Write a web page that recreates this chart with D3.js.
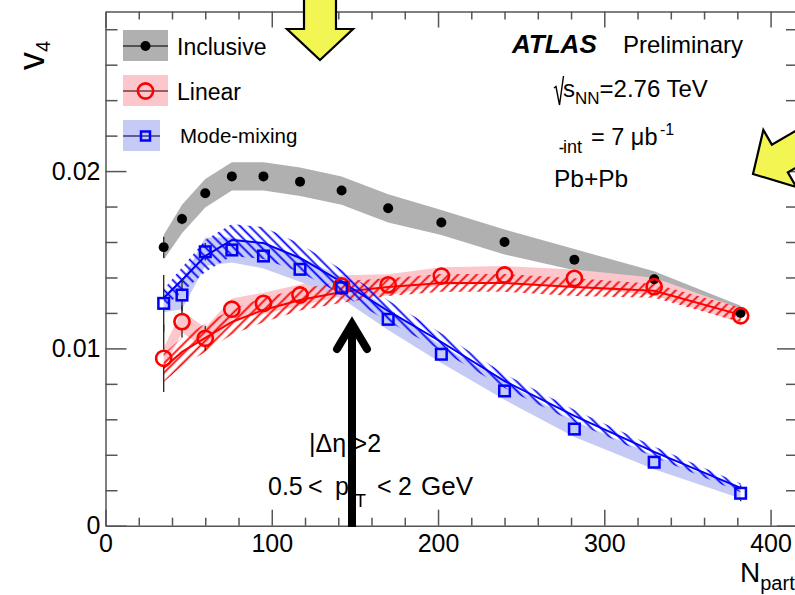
<!DOCTYPE html>
<html>
<head>
<meta charset="utf-8">
<script src="https://cdn.jsdelivr.net/npm/d3@7"></script>
<style>
  body { margin: 0; background: #fff; }
  text { font-family: "Liberation Sans", Arial, Helvetica, sans-serif; fill: #000; }
</style>
</head>
<body>
<svg id="chart" width="795" height="595"></svg>
<script>
// Centrality bins (mean number of participants)
const npart = [35, 46, 60, 76, 95, 117, 142, 170, 202, 240, 282, 330, 382];

// Inclusive v4
const inclusiveV4  = [0.0157, 0.0173, 0.01875, 0.0197, 0.0197, 0.0194, 0.0189, 0.0179, 0.0171, 0.0160, 0.0150, 0.0139, 0.0120];
const inclusiveSys = [0.0007, 0.0008, 0.0008, 0.0008, 0.0008, 0.0008, 0.0008, 0.0008, 0.0007, 0.0007, 0.0006, 0.00045, 0.0004];
const inclusiveStat = [0.0006, 0.0003, 0.0002, 0.0002, 0.0002, 0.0002, 0.0002, 0.0002, 0.0002, 0.0002, 0.0002, 0.0002, 0.0002];

// Linear component
const linearV4   = [0.00944, 0.01151, 0.01057, 0.01221, 0.01254, 0.01301, 0.01352, 0.01358, 0.01408, 0.01414, 0.01395, 0.01348, 0.01184];
const linearSys  = [0.0006, 0.0006, 0.0006, 0.0006, 0.0006, 0.0006, 0.0006, 0.0006, 0.0005, 0.0005, 0.0005, 0.0005, 0.0004];
const linearStat = [0.0019, 0.0009, 0.0007, 0.0004, 0.0003, 0.0003, 0.0002, 0.0002, 0.0002, 0.0002, 0.0002, 0.0002, 0.0002];
const linearModel    = [0.0089, 0.0098, 0.01059, 0.01149, 0.01217, 0.01273, 0.01318, 0.01346, 0.01369, 0.01369, 0.01346, 0.01325, 0.01189];
const linearModelErr = [0.0008, 0.0008, 0.0008, 0.0007, 0.0007, 0.0006, 0.0006, 0.0005, 0.0005, 0.0005, 0.0005, 0.0004, 0.0004];

// Mode-mixing component
const modeV4   = [0.01254, 0.01301, 0.01545, 0.01555, 0.01521, 0.01446, 0.01342, 0.01164, 0.00967, 0.0076, 0.00545, 0.00358, 0.00183];
const modeSys  = [0.0005, 0.0008, 0.0008, 0.0007, 0.0007, 0.0007, 0.0006, 0.0006, 0.0005, 0.0005, 0.00045, 0.0004, 0.0003];
const modeStat = [0.0016, 0.0009, 0.0005, 0.0003, 0.0003, 0.0003, 0.0002, 0.0002, 0.0002, 0.0002, 0.0002, 0.0003, 0.00045];
const modeModel    = [0.01284, 0.01386, 0.01521, 0.01611, 0.01594, 0.0151, 0.01375, 0.01211, 0.01036, 0.00816, 0.00619, 0.00416, 0.00213];
const modeModelErr = [0.0005, 0.0007, 0.0009, 0.0009, 0.0009, 0.0008, 0.0007, 0.0006, 0.0005, 0.0004, 0.00035, 0.0003, 0.00025];

// Axis ticks
const xMajor = [0, 100, 200, 300, 400];
const xMinor = d3.range(0, 417, 20).filter(v => v % 100 !== 0);
const yMajor = [0, 0.01, 0.02];
const yMinor = d3.range(0, 0.0291, 0.002).filter(v => Math.abs(v / 0.01 - Math.round(v / 0.01)) > 1e-6);
const yTickLabels = ["0", "0.01", "0.02"];

const svg = d3.select("#chart");
const x = d3.scaleLinear().domain([0, 416.5]).range([105.5, 798]);
const y = d3.scaleLinear().domain([0, 0.029]).range([525.7, 11.5]);

const axisColor = "#555";

// ---- hatch patterns ----
const defs = svg.append("defs");
function hatch(id, color, angle) {
  const s = 6.6;
  const p = defs.append("pattern").attr("id", id)
    .attr("patternUnits", "userSpaceOnUse")
    .attr("width", s).attr("height", s)
    .attr("patternTransform", `rotate(${angle})`);
  p.append("line").attr("x1", s / 2).attr("x2", s / 2).attr("y1", 0).attr("y2", s)
    .attr("stroke", color).attr("stroke-width", 1.8);
}
hatch("hatchRed", "#ff0000", 45);
hatch("hatchBlue", "#0000ff", -45);

defs.append("clipPath").attr("id", "plotClip")
  .append("rect").attr("x", 105.5).attr("y", 11.5).attr("width", 692.5).attr("height", 514.2);

// ---- axes ----
function styleAxis(g) {
  g.selectAll("path.domain").attr("stroke", axisColor).attr("stroke-width", 1.5);
  g.selectAll(".tick line").attr("stroke", axisColor).attr("stroke-width", 1.5);
  g.selectAll(".tick text").style("font-family", '"Liberation Sans", Arial, sans-serif')
    .style("font-size", "25px").attr("fill", "#000");
}

svg.append("g").attr("transform", "translate(0,525.7)")
  .call(d3.axisBottom(x).tickValues(xMajor).tickSizeInner(-16).tickSizeOuter(0).tickPadding(9).tickFormat(d3.format("d")))
  .call(styleAxis);
svg.append("g").attr("transform", "translate(0,525.7)")
  .call(d3.axisBottom(x).tickValues(xMinor).tickSizeInner(-8).tickSizeOuter(0).tickFormat(""))
  .call(styleAxis).select("path.domain").remove();

svg.append("g").attr("transform", "translate(0,11.5)")
  .call(d3.axisTop(x).tickValues(xMajor).tickSizeInner(-16).tickSizeOuter(0).tickFormat(""))
  .call(styleAxis);
svg.append("g").attr("transform", "translate(0,11.5)")
  .call(d3.axisTop(x).tickValues(xMinor).tickSizeInner(-8).tickSizeOuter(0).tickFormat(""))
  .call(styleAxis).select("path.domain").remove();

svg.append("g").attr("transform", "translate(105.5,0)")
  .call(d3.axisLeft(y).tickValues(yMajor).tickSizeInner(-21).tickSizeOuter(0).tickPadding(5)
    .tickFormat((d, i) => yTickLabels[i]))
  .call(styleAxis);
svg.append("g").attr("transform", "translate(105.5,0)")
  .call(d3.axisLeft(y).tickValues(yMinor).tickSizeInner(-12).tickSizeOuter(0).tickFormat(""))
  .call(styleAxis).select("path.domain").remove();

svg.append("g").attr("transform", "translate(798,0)")
  .call(d3.axisRight(y).tickValues(yMajor).tickSizeInner(-21).tickSizeOuter(0).tickFormat(""))
  .call(styleAxis);
svg.append("g").attr("transform", "translate(798,0)")
  .call(d3.axisRight(y).tickValues(yMinor).tickSizeInner(-12).tickSizeOuter(0).tickFormat(""))
  .call(styleAxis).select("path.domain").remove();

// ---- axis titles ----
const yTitle = svg.append("text").attr("transform", "translate(44,70) rotate(-90)")
  .style("font-size", "36px");
yTitle.append("tspan").text("v");
yTitle.append("tspan").attr("dy", 6).style("font-size", "20px").text("4");

const xTitle = svg.append("text").attr("x", 740).attr("y", 582).style("font-size", "28px");
xTitle.append("tspan").text("N");
xTitle.append("tspan").attr("dy", 8).style("font-size", "20px").text("part");

// ---- data layers ----
const plot = svg.append("g").attr("clip-path", "url(#plotClip)");

function band(values, errs) {
  return d3.area()
    .x((d, i) => x(npart[i]))
    .y0((d, i) => y(values[i] - errs[i]))
    .y1((d, i) => y(values[i] + errs[i]))(values);
}
const line = d3.line().x((d, i) => x(npart[i])).y(d => y(d));

// systematic bands
plot.append("path").attr("d", band(inclusiveV4, inclusiveSys)).attr("fill", "#b0b0b0");
plot.append("path").attr("d", band(linearV4, linearSys)).attr("fill", "#fbc7cc");
plot.append("path").attr("d", band(modeV4, modeSys)).attr("fill", "#c6cbf5");

// model curves with hatched uncertainty
plot.append("path").attr("d", band(linearModel, linearModelErr)).attr("fill", "url(#hatchRed)");
plot.append("path").attr("d", line(linearModel)).attr("fill", "none").attr("stroke", "#ff0000").attr("stroke-width", 2);
plot.append("path").attr("d", band(modeModel, modeModelErr)).attr("fill", "url(#hatchBlue)");
plot.append("path").attr("d", line(modeModel)).attr("fill", "none").attr("stroke", "#0000ff").attr("stroke-width", 2);

// statistical error bars (drawn outside the marker only)
function errorBars(values, errs, half) {
  const segs = [];
  values.forEach((v, i) => {
    const px = x(npart[i]), py = y(v), e = y(0) - y(errs[i]);
    if (e > half) {
      segs.push([px, py - e, px, py - half]);
      segs.push([px, py + half, px, py + e]);
    }
  });
  plot.append("g").selectAll("line").data(segs).join("line")
    .attr("x1", d => d[0]).attr("y1", d => d[1]).attr("x2", d => d[2]).attr("y2", d => d[3])
    .attr("stroke", "#222").attr("stroke-width", 1.3);
}
errorBars(inclusiveV4, inclusiveStat, 5);
errorBars(linearV4, linearStat, 8.5);
errorBars(modeV4, modeStat, 6);

// markers
plot.append("g").selectAll("circle").data(inclusiveV4).join("circle")
  .attr("cx", (d, i) => x(npart[i])).attr("cy", d => y(d)).attr("r", 5).attr("fill", "#000");
plot.append("g").selectAll("circle").data(linearV4).join("circle")
  .attr("cx", (d, i) => x(npart[i])).attr("cy", d => y(d)).attr("r", 7.6)
  .attr("fill", "none").attr("stroke", "#ff0000").attr("stroke-width", 2.6);
plot.append("g").selectAll("rect").data(modeV4).join("rect")
  .attr("x", (d, i) => x(npart[i]) - 5.3).attr("y", d => y(d) - 5.3)
  .attr("width", 10.6).attr("height", 10.6)
  .attr("fill", "none").attr("stroke", "#0000ff").attr("stroke-width", 2.5);

// ---- legend ----
const leg = svg.append("g");
leg.append("rect").attr("x", 123).attr("y", 30).attr("width", 45).attr("height", 31).attr("fill", "#b0b0b0");
leg.append("line").attr("x1", 123).attr("x2", 168).attr("y1", 46).attr("y2", 46).attr("stroke", "#333").attr("stroke-width", 1.3);
leg.append("circle").attr("cx", 145.5).attr("cy", 46).attr("r", 5).attr("fill", "#000");
leg.append("text").attr("x", 177).attr("y", 55).style("font-size", "23px").text("Inclusive");

leg.append("rect").attr("x", 123).attr("y", 75).attr("width", 45).attr("height", 31).attr("fill", "#fbc7cc");
leg.append("line").attr("x1", 123).attr("x2", 168).attr("y1", 91).attr("y2", 91).attr("stroke", "#7a3a3a").attr("stroke-width", 1.3);
leg.append("circle").attr("cx", 145.5).attr("cy", 91).attr("r", 7.6).attr("fill", "none").attr("stroke", "#ff0000").attr("stroke-width", 2.6);
leg.append("text").attr("x", 177).attr("y", 100).style("font-size", "23px").text("Linear");

leg.append("rect").attr("x", 123).attr("y", 120).attr("width", 37).attr("height", 31).attr("fill", "#c6cbf5");
leg.append("line").attr("x1", 123).attr("x2", 160).attr("y1", 136).attr("y2", 136).attr("stroke", "#3a3a7a").attr("stroke-width", 1.3);
leg.append("rect").attr("x", 141).attr("y", 131.5).attr("width", 9).attr("height", 9).attr("fill", "none").attr("stroke", "#0000ff").attr("stroke-width", 2.5);
leg.append("text").attr("x", 180).attr("y", 143).style("font-size", "20.5px").text("Mode-mixing");

// ---- labels ----
svg.append("text").attr("x", 512).attr("y", 53).style("font-size", "26px")
  .style("font-weight", "bold").style("font-style", "italic").text("ATLAS");
svg.append("text").attr("x", 623).attr("y", 53).style("font-size", "24px").text("Preliminary");

svg.append("path").attr("d", "M554,88 L556,86.5 L559.5,105 L563.5,76")
  .attr("fill", "none").attr("stroke", "#000").attr("stroke-width", 1.4);
const sq = svg.append("text").attr("x", 563).attr("y", 97).style("font-size", "24px");
sq.append("tspan").text("s");
sq.append("tspan").attr("dy", 7).style("font-size", "17px").text("NN");
sq.append("tspan").attr("dy", -7).text("=2.76 TeV");

svg.append("line").attr("x1", 559.5).attr("x2", 563.5).attr("y1", 148.5).attr("y2", 148.5).attr("stroke", "#000").attr("stroke-width", 1.5);
svg.append("text").attr("x", 563).attr("y", 153).style("font-size", "18px").text("int");
svg.append("text").attr("x", 591).attr("y", 145).style("font-size", "23.5px").text("= 7 μb");
svg.append("text").attr("x", 660).attr("y", 135).style("font-size", "16px").text("-1");

svg.append("text").attr("x", 554).attr("y", 187).style("font-size", "24.5px").text("Pb+Pb");

svg.append("text").attr("x", 309).attr("y", 452).style("font-size", "25px").text("|Δη|>2");
// kinematic selection, set piece by piece for the wide spacing
const ptLine = svg.append("g").style("font-size", "25px");
ptLine.append("text").attr("x", 268).attr("y", 495).text("0.5");
ptLine.append("text").attr("x", 308).attr("y", 495).text("<");
ptLine.append("text").attr("x", 335).attr("y", 495).text("p");
ptLine.append("text").attr("x", 355).attr("y", 507).style("font-size", "18px").text("T");
ptLine.append("text").attr("x", 377).attr("y", 495).text("<");
ptLine.append("text").attr("x", 398).attr("y", 495).text("2");
ptLine.append("text").attr("x", 421).attr("y", 495).style("font-size", "26px").text("GeV");

// ---- black arrow ----
svg.append("line").attr("x1", 352).attr("x2", 352).attr("y1", 527).attr("y2", 326)
  .attr("stroke", "#000").attr("stroke-width", 8);
svg.append("path").attr("d", "M337,349 L352,324 L367,349")
  .attr("fill", "none").attr("stroke", "#000").attr("stroke-width", 8)
  .attr("stroke-linecap", "round").attr("stroke-linejoin", "miter");

// ---- yellow arrows ----
const arrowShape = "M0,0 L33,-31 L16,-31 L16,-220 L-16,-220 L-16,-31 L-33,-31 Z";
svg.append("path").attr("d", arrowShape).attr("transform", "translate(320,60)")
  .attr("fill", "#f2f552").attr("stroke", "#000").attr("stroke-width", 2.2).attr("stroke-linejoin", "miter");
svg.append("path").attr("d", arrowShape).attr("transform", "translate(753,174) rotate(60)")
  .attr("fill", "#f2f552").attr("stroke", "#000").attr("stroke-width", 2.2).attr("stroke-linejoin", "miter");
</script>
</body>
</html>
